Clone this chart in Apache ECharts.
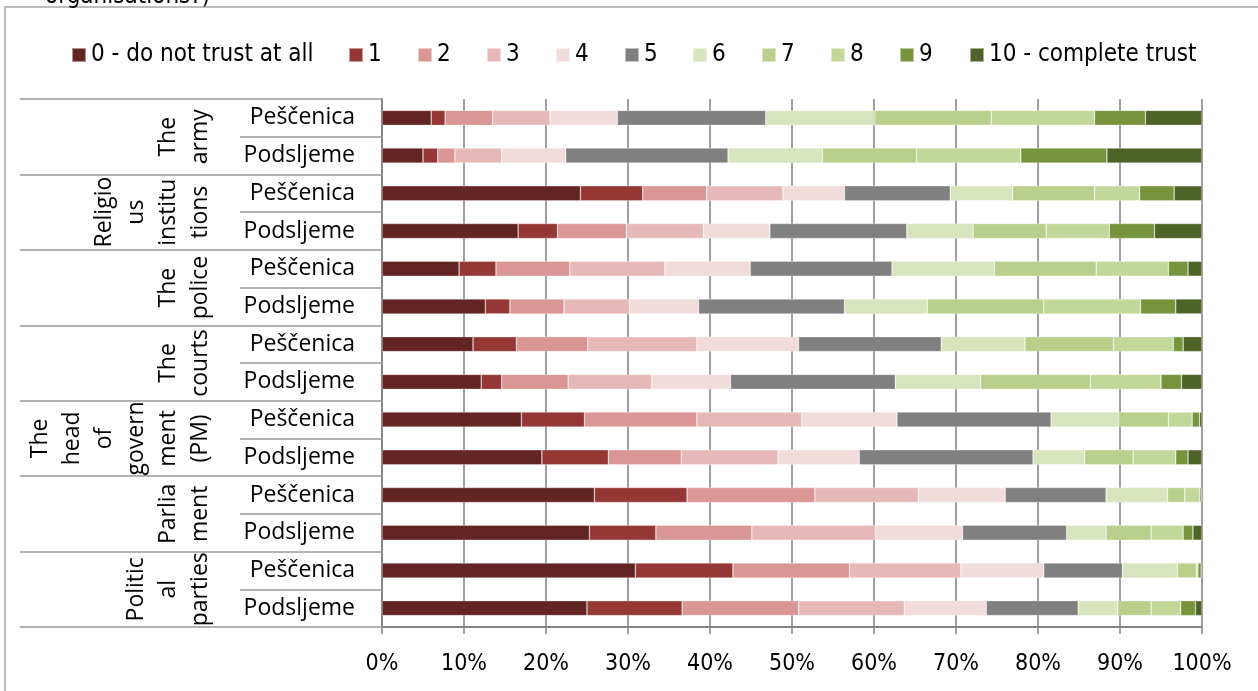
<!DOCTYPE html>
<html>
<head>
<meta charset="utf-8">
<script src="https://cdn.jsdelivr.net/npm/echarts@6/dist/echarts.min.js"></script>
<style>
html,body{margin:0;padding:0;background:#fff;}
#chart{width:1258px;height:691px;}
</style>
</head>
<body>
<div id="chart"></div>
<script>
// ---- data ----
const seriesNames = ['0 - do not trust at all','1','2','3','4','5','6','7','8','9','10 - complete trust'];
const subLabels = ['Peščenica','Podsljeme','Peščenica','Podsljeme','Peščenica','Podsljeme','Peščenica','Podsljeme','Peščenica','Podsljeme','Peščenica','Podsljeme','Peščenica','Podsljeme'];
const groupLabels = ['The\narmy','Religio\nus\ninstitu\ntions','The\npolice','The\ncourts','The\nhead\nof\ngovern\nment\n(PM)','Parlia\nment','Politic\nal\nparties'];
const tickLabels = ['0%','10%','20%','30%','40%','50%','60%','70%','80%','90%','100%'];

const armyP  = [6.0, 1.7, 5.8, 7.0, 8.2, 18.1, 13.3, 14.2, 12.6, 6.2, 6.9];
const armyS  = [5.0, 1.8, 2.1, 5.7, 7.8, 19.8, 11.5, 11.5, 12.7, 10.5, 11.6];
const relP   = [24.2, 7.6, 7.8, 9.3, 7.5, 12.9, 7.6, 10.0, 5.5, 4.2, 3.4];
const relS   = [16.6, 4.8, 8.4, 9.4, 8.1, 16.7, 8.1, 8.9, 7.7, 5.5, 5.8];
const polP   = [9.4, 4.5, 9.0, 11.6, 10.4, 17.3, 12.5, 12.4, 8.8, 2.4, 1.7];
const polS   = [12.6, 3.0, 6.6, 8.0, 8.4, 17.8, 10.1, 14.2, 11.8, 4.3, 3.2];
const courtP = [11.1, 5.3, 8.7, 13.3, 12.4, 17.4, 10.2, 10.8, 7.3, 1.2, 2.3];
const courtS = [12.1, 2.5, 8.1, 10.2, 9.6, 20.1, 10.4, 13.4, 8.6, 2.5, 2.5];
const pmP    = [17.0, 7.7, 13.7, 12.8, 11.6, 18.8, 8.3, 6.0, 2.9, 0.9, 0.3];
const pmS    = [19.5, 8.1, 8.9, 11.8, 9.9, 21.2, 6.3, 5.9, 5.2, 1.5, 1.7];
const parlP  = [25.9, 11.3, 15.6, 12.6, 10.6, 12.3, 7.5, 2.1, 1.8, 0.2, 0.1];
const parlS  = [25.3, 8.1, 11.7, 15.0, 10.7, 12.7, 4.8, 5.5, 3.9, 1.2, 1.1];
const partyP = [30.9, 11.9, 14.2, 13.6, 10.1, 9.6, 6.7, 2.3, 0.2, 0.4, 0.1];
const partyS = [25.0, 11.6, 14.2, 12.9, 10.0, 11.2, 4.8, 4.1, 3.6, 1.8, 0.8];

const rows = [armyP, armyS, relP, relS, polP, polS, courtP, courtS, pmP, pmS, parlP, parlS, partyP, partyS];

// ---- styles ----
const colors = ['#632523','#953735','#d99694','#e6b9b8','#f2dcdb','#808080','#d7e4bd','#b9cf8b','#c4d79b','#77933c','#4f6228'];
const legendLeft = [71, 348, 417, 486, 555, 624, 692, 761, 830, 899, 969];
const narrow = '"DejaVu Sans Condensed", "Liberation Sans Narrow", sans-serif';
const sans = '"Open Sans", "Noto Sans", sans-serif';

const chart = echarts.init(document.getElementById('chart'));

const series = seriesNames.map((name, si) => ({
  name: name,
  type: 'bar',
  stack: 'total',
  barWidth: 15,
  yAxisIndex: 0,
  itemStyle: { color: colors[si], borderColor: 'rgba(255,255,255,0.5)', borderWidth: 0.6 },
  emphasis: { disabled: true },
  data: rows.map(r => r[si])
}));

const legends = seriesNames.map((name, i) => ({
  data: [name],
  left: legendLeft[i],
  top: 43,
  padding: 0,
  icon: 'rect',
  itemWidth: 14,
  itemHeight: 14,
  selectedMode: false,
  textStyle: { fontFamily: narrow, fontSize: 24, color: '#000' }
}));

chart.setOption({
  animation: false,
  backgroundColor: '#fff',
  legend: legends,
  grid: { left: 382, right: 56, top: 99, bottom: 64, containLabel: false },
  xAxis: {
    type: 'value',
    min: 0, max: 100, interval: 10,
    axisLine: { show: true, lineStyle: { color: '#868686', width: 2 } },
    axisTick: { show: true, length: 7, lineStyle: { color: '#868686', width: 1.5 } },
    splitLine: { show: true, lineStyle: { color: '#808080', width: 1.5 } },
    axisLabel: {
      margin: 26,
      fontFamily: narrow, fontSize: 23, color: '#000',
      formatter: function (v) { return tickLabels[Math.round(v / 10)]; }
    }
  },
  yAxis: [
    {
      type: 'category',
      inverse: true,
      data: subLabels,
      position: 'left',
      axisLine: { show: true, lineStyle: { color: '#868686', width: 2 } },
      axisTick: { show: true, length: 142, lineStyle: { color: '#9a9a9a', width: 1.5 } },
      axisLabel: { interval: 0, margin: 27, padding: [5, 0, 0, 0], fontFamily: sans, fontSize: 23, color: '#000' },
      splitLine: { show: false }
    },
    {
      type: 'category',
      inverse: true,
      data: groupLabels,
      position: 'left',
      offset: 0,
      axisLine: { show: false },
      axisTick: { show: true, length: 362, lineStyle: { color: '#9a9a9a', width: 1.5 } },
      axisLabel: {
        interval: 0, margin: 166, rotate: 90,
        align: 'center', verticalAlign: 'bottom',
        fontFamily: sans, fontSize: 23, lineHeight: 32, color: '#000'
      },
      splitLine: { show: false }
    }
  ],
  graphic: [
    { type: 'rect', silent: true, shape: { x: 5, y: 7, width: 1400, height: 800 },
      style: { fill: 'none', stroke: '#a6a6a6', lineWidth: 1.5 } },
    { type: 'text', silent: true, x: 45, y: 9,
      style: { text: 'organisations?)', fontFamily: narrow, fontSize: 24, fill: '#000', verticalAlign: 'bottom' } }
  ],
  series: series
});
</script>
</body>
</html>
